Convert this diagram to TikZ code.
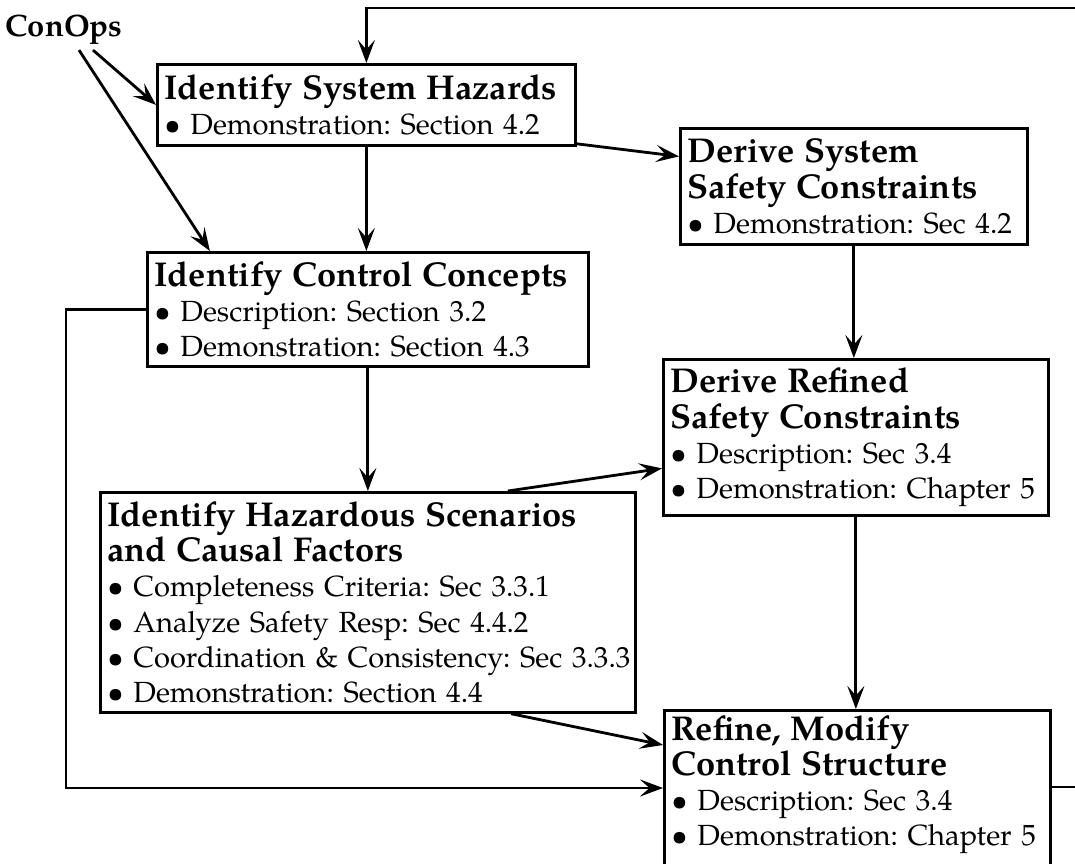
\documentclass[tikz,border=0pt]{standalone}
\usepackage{fontspec}
\setmainfont{TeX Gyre Pagella}
\usetikzlibrary{arrows.meta}
\frenchspacing
\newcommand{\boxtitle}[1]{{\fontsize{19.6}{20}\selectfont\bfseries #1}}
\newcommand{\bulletline}[1]{\mbox{\textbullet{} #1}}
\begin{document}
\begin{tikzpicture}[x=0.02cm, y=-0.02cm,
		stepbox/.style={draw, line width=1.6pt, anchor=north west, align=left,
			inner xsep=0.14cm, inner ysep=0.1cm, font=\fontsize{16.6}{20}\selectfont},
		arr/.style={line width=1.6pt, -{Stealth[length=4.6mm, width=3.4mm, inset=1.9mm]}},
		wire/.style={line width=1.6pt}]
			%%%%% START %%%%%
			\useasboundingbox (0, 0) rectangle (1075, 863);
			\clip (0, 0) rectangle (1075, 863);
			
			\node[font=\fontsize{17.6}{20}\selectfont\bfseries, inner sep=0.1cm] (conops) at (64, 30) {ConOps};
			
			\node[stepbox, text width=8.08cm, minimum height=1.62cm] (hazards) at (156, 63)
				{\boxtitle{Identify System Hazards}\\
				\bulletline{Demonstration: Section 4.2}};
			\node[stepbox, text width=6.66cm, minimum height=2.32cm] (syscon) at (679, 127)
				{\boxtitle{Derive System}\\ \boxtitle{Safety Constraints}\\
				\bulletline{Demonstration: Sec 4.2}};
			\node[stepbox, text width=8.54cm, minimum height=2.28cm] (concepts) at (146, 251)
				{\boxtitle{Identify Control Concepts}\\
				\bulletline{Description: Section 3.2}\\
				\bulletline{Demonstration: Section 4.3}};
			\node[stepbox, text width=7.42cm, minimum height=3.12cm] (refined) at (662, 358)
				{\boxtitle{Derive Refined}\\ \boxtitle{Safety Constraints}\\
				\bulletline{Description: Sec 3.4}\\
				\bulletline{Demonstration: Chapter 5}};
			\node[stepbox, text width=10.42cm, minimum height=4.4cm] (scenarios) at (99, 491)
				{\boxtitle{Identify Hazardous Scenarios}\\ \boxtitle{and Causal Factors}\\
				\bulletline{Completeness Criteria: Sec 3.3.1}\\
				\bulletline{Analyze Safety Resp: Sec 4.4.2}\\
				\bulletline{Coordination \& Consistency: Sec 3.3.3}\\
				\bulletline{Demonstration: Section 4.4}};
			\node[stepbox, text width=7.44cm] (refine) at (663, 709)
				{\boxtitle{Refine, Modify}\\ \boxtitle{Control Structure}\\
				\bulletline{Description: Sec 3.4}\\
				\bulletline{Demonstration: Chapter 5}\rule[-1.2cm]{0pt}{0pt}};
			
			%%%%% ARROWS %%%%%
			\draw[arr] ([xshift=0.58cm]conops.south) -- (hazards.west);
			\draw[arr] ([xshift=0.3cm]conops.south) -- ([xshift=-3.16cm]concepts.north);
			\draw[arr] (hazards.south) -- (hazards.south |- concepts.north);
			\draw[arr] ([yshift=0.06cm]hazards.south east) -- ([yshift=0.6cm]syscon.west);
			\draw[arr] (syscon.south) -- (syscon.south |- refined.north);
			\draw[arr] (concepts.south) -- (concepts.south |- scenarios.north);
			\draw[arr] ([xshift=2.8cm]scenarios.north) -- ([yshift=-0.62cm]refined.west);
			\draw[arr] ([xshift=2.87cm]scenarios.south) -- ([yshift=-0.72cm]refine.north west);
			\draw[arr] (refined.south) -- (refined.south |- refine.north);
			
			%%%%% FEEDBACK %%%%%
			\coordinate (fbL) at (66, 788);
			\coordinate (fbR) at (1100, 8);
			\draw[arr] (concepts.west) -| (fbL) -- (fbL -| refine.west);
			\draw[arr] ([yshift=-1.56cm]refine.north east) -| (fbR) -| (hazards.north);
			%%%%% END %%%%%
\end{tikzpicture}
\end{document}
